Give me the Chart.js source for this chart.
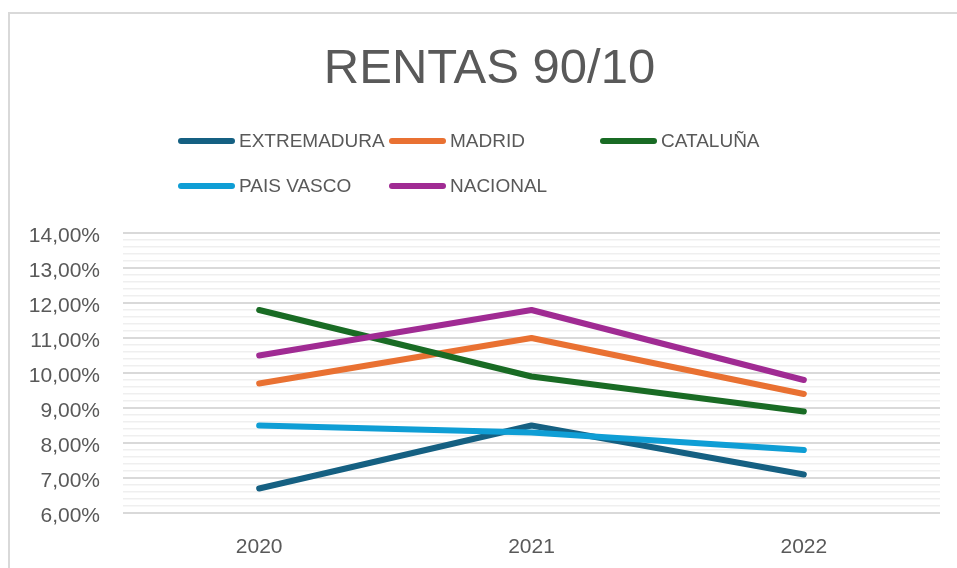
<!DOCTYPE html>
<html>
<head>
<meta charset="utf-8">
<script src="https://cdn.jsdelivr.net/npm/chart.js@4.4.1/dist/chart.umd.min.js"></script>
<style>
  html, body { margin: 0; padding: 0; background: #ffffff; }
  #wrap { width: 957px; height: 568px; position: relative; overflow: hidden; }
</style>
</head>
<body>
<div id="wrap"><canvas id="c" width="957" height="568"></canvas></div>
<script>
// ---- Data ----
const title = 'RENTAS 90/10';
const years = ['2020', '2021', '2022'];
const seriesNames = ['EXTREMADURA', 'MADRID', 'CATALUÑA', 'PAIS VASCO', 'NACIONAL'];
const extremadura = [6.7, 8.5, 7.1];
const madrid      = [9.7, 11.0, 9.4];
const cataluna    = [11.8, 9.9, 8.9];
const paisVasco   = [8.5, 8.3, 7.8];
const nacional    = [10.5, 11.8, 9.8];
const yMin = 6, yMax = 14, yMinorStep = 0.2;

const seriesValues = [extremadura, madrid, cataluna, paisVasco, nacional];
const seriesColors = ['#156082', '#E97132', '#196B24', '#0F9ED5', '#A02B93'];

const TEXT = '#595959';
const FONT = "'Liberation Sans', Arial, sans-serif";

const isMajor = v => Math.abs(v - Math.round(v)) < 1e-6;

const decorPlugin = {
  id: 'decor',
  beforeDraw(chart) {
    const ctx = chart.ctx;
    ctx.save();
    ctx.strokeStyle = '#d9d9d9';
    ctx.lineWidth = 2;
    ctx.beginPath();
    ctx.moveTo(9, 600);
    ctx.lineTo(9, 13);
    ctx.lineTo(1000, 13);
    ctx.stroke();
    ctx.restore();
  },
  afterDraw(chart) {
    const ctx = chart.ctx;
    ctx.save();
    // title
    ctx.fillStyle = TEXT;
    ctx.font = '49px ' + FONT;
    ctx.textAlign = 'center';
    ctx.textBaseline = 'alphabetic';
    ctx.fillText(title, 489.5, 83);
    // legend
    ctx.font = '19px ' + FONT;
    ctx.textAlign = 'left';
    ctx.textBaseline = 'middle';
    chart.data.datasets.forEach((ds, i) => {
      const col = i % 3, row = Math.floor(i / 3);
      const x0 = 178 + col * 211;
      const y = 141 + row * 45;
      ctx.strokeStyle = ds.borderColor;
      ctx.lineWidth = 6;
      ctx.lineCap = 'round';
      ctx.beginPath();
      ctx.moveTo(x0 + 3, y);
      ctx.lineTo(x0 + 54, y);
      ctx.stroke();
      ctx.fillStyle = TEXT;
      ctx.fillText(ds.label, x0 + 61, y + 1);
    });
    ctx.restore();
  }
};

const datasets = seriesNames.map((name, i) => ({
  label: name,
  data: seriesValues[i],
  borderColor: seriesColors[i],
  backgroundColor: seriesColors[i],
  borderWidth: 6,
  borderCapStyle: 'round',
  borderJoinStyle: 'round',
  pointRadius: 0,
  pointHoverRadius: 0,
  tension: 0,
  fill: false,
  order: seriesNames.length - i
}));

new Chart(document.getElementById('c'), {
  type: 'line',
  data: { labels: years, datasets },
  plugins: [decorPlugin],
  options: {
    responsive: false,
    animation: false,
    layout: { padding: { top: 233, left: 10, right: 17, bottom: 0 } },
    plugins: {
      legend: { display: false },
      title: { display: false },
      tooltip: { enabled: false }
    },
    scales: {
      x: {
        offset: true,
        grid: { display: false, drawTicks: false },
        border: { display: false },
        ticks: { color: TEXT, font: { family: FONT, size: 21 }, padding: 22 },
        afterFit(scale) { scale.height = 55; }
      },
      y: {
        min: yMin,
        max: yMax,
        border: { display: false },
        grid: {
          drawTicks: false,
          color: ctx => isMajor(ctx.tick.value) ? '#d9d9d9' : '#efefef',
          lineWidth: ctx => isMajor(ctx.tick.value) ? 2 : 1.5
        },
        ticks: {
          stepSize: yMinorStep,
          autoSkip: false,
          padding: 23,
          labelOffset: 3,
          color: TEXT,
          font: { family: FONT, size: 21 },
          callback: v => isMajor(v) ? Math.round(v).toFixed(2).replace('.', ',') + '%' : ''
        },
        afterFit(scale) { scale.width = 113; }
      }
    }
  }
});
</script>
</body>
</html>
